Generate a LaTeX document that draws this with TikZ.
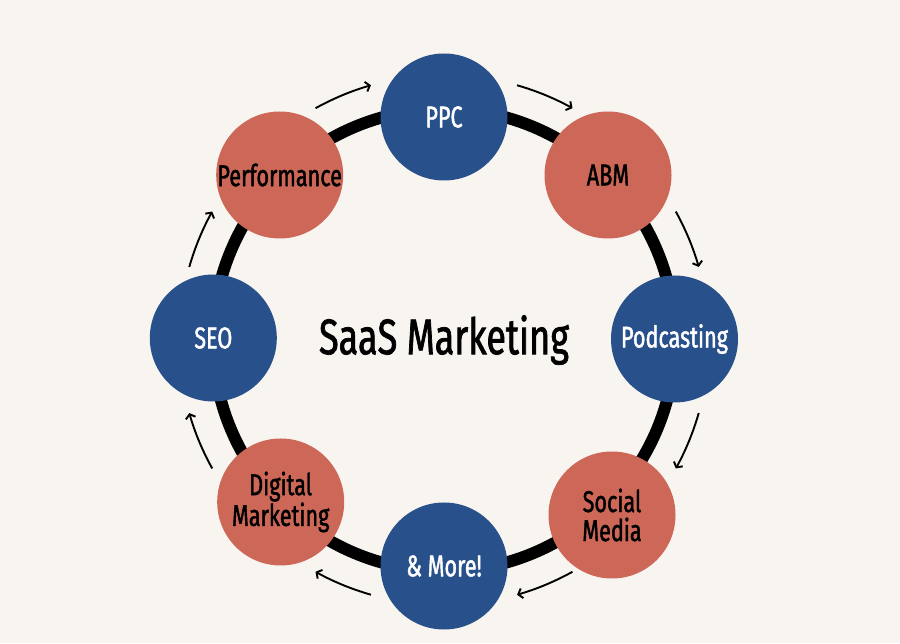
\documentclass[tikz,border=0pt]{standalone}
\usepackage{fontspec}
\setmainfont[FakeStretch=0.72,FakeBold=1.4]{Fira Sans}
\usetikzlibrary{arrows.meta}
\definecolor{bgc}{HTML}{F8F5F0}
\definecolor{blueC}{HTML}{28508A}
\definecolor{redC}{HTML}{CD6757}
\tikzset{
  bub/.style={circle,minimum size=127pt,inner sep=0pt,align=center,
    font=\fontsize{30}{29}\selectfont},
  bluebub/.style={bub,fill=blueC,text=white},
  redbub/.style={bub,fill=redC,text=black},
  ring/.style={line width=12pt,black},
  flow/.style={line width=1.9pt,black,-{Straight Barb[length=4pt,width=10pt,line width=1.9pt]}}
}
\begin{document}
\begin{tikzpicture}[x=1pt,y=1pt]
\fill[bgc] (0,0) rectangle (900,643);
\useasboundingbox (0,0) rectangle (900,643);
\coordinate (c) at (444,303);
\draw[ring] (c) circle[radius=231];
\node[bluebub] (ppc) at (444,526) {PPC};
\node[redbub] (abm) at (608,468) {ABM};
\node[bluebub] (pod) at (674.5,304) {Podcasting};
\node[redbub] (soc) at (612,128) {Social\\Media};
\node[bluebub] (more) at (444,77) {\& More!};
\node[redbub] (dig) at (280.7,141) {Digital\\Marketing};
\node[bluebub] (seo) at (213.3,305) {SEO};
\node[redbub] (perf) at (279.7,468) {Performance};
\node[font=\fontsize{50}{52}\selectfont] (title) at (c) {SaaS Marketing};
\foreach \m in {112.5,67.5,22.5,-22.5,-67.5,-112.5,-157.5,157.5}{
  \draw[flow,shift={(444,303)}] (\m+6.5:265) arc[start angle=\m+6.5,end angle=\m-6.5,radius=265];
}
\end{tikzpicture}
\end{document}
